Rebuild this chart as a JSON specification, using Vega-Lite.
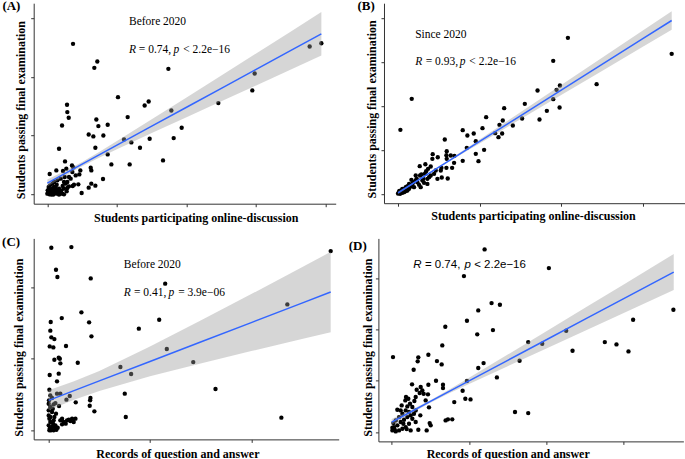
{
"$schema": "https://vega.github.io/schema/vega-lite/v6.json",
"background": "white",
"autosize": {"type": "pad"},
"padding": {"left": 1.7, "top": -0.8, "right": 0, "bottom": 0},
"datasets": {
"ptsA": [
{"x":36.9,"y":256.1},{"x":71.8,"y":226.1},{"x":67.5,"y":215.3},{"x":173.9,"y":213.6},{"x":101.5,"y":165.5},{"x":145.6,"y":158.2},{"x":139.8,"y":151.4},{"x":178.2,"y":142.9},{"x":245.7,"y":155.4},{"x":297.9,"y":205.7},{"x":294.5,"y":176.9},{"x":376.9,"y":251.6},{"x":393.7,"y":257.2},{"x":28.3,"y":152.5},{"x":28.7,"y":140.1},{"x":30.7,"y":130.5},{"x":70.4,"y":127.6},{"x":21.1,"y":117.4},{"x":73.3,"y":116.3},{"x":86.7,"y":118.6},{"x":115.4,"y":131.6},{"x":59.4,"y":102.1},{"x":66.1,"y":98.8},{"x":80.5,"y":100.4},{"x":110.2,"y":93.7},{"x":120.7,"y":88.6},{"x":147.0,"y":94.8},{"x":181.5,"y":95.9},{"x":193.0,"y":113.5},{"x":16.8,"y":77.8},{"x":69.0,"y":79.5},{"x":86.7,"y":68.2},{"x":133.1,"y":79.5},{"x":166.2,"y":58.0},{"x":118.3,"y":51.2},{"x":92.0,"y":51.2},{"x":25.4,"y":56.3},{"x":80.0,"y":26.3},{"x":62.3,"y":45.6},{"x":63.2,"y":41.0},{"x":47.4,"y":41.0},{"x":46.0,"y":34.2},{"x":35.4,"y":49.5},{"x":37.4,"y":46.1},{"x":27.3,"y":43.9},{"x":22.5,"y":39.9},{"x":12.9,"y":41.0},{"x":3.4,"y":34.8},{"x":44.5,"y":17.3},{"x":59.4,"y":11.6},{"x":49.3,"y":2.5},{"x":63.2,"y":18.4},{"x":69.0,"y":15.0},{"x":36.4,"y":14.4},{"x":31.1,"y":13.9},{"x":23.9,"y":0.3},{"x":19.2,"y":4.2},{"x":14.4,"y":7.1},{"x":9.6,"y":12.7},
{"x":0,"y":1.4},{"x":1.4,"y":4.2},{"x":2.9,"y":0.3},{"x":4.8,"y":6.5},{"x":5.7,"y":2.5},{"x":7.2,"y":9.9},{"x":8.6,"y":0},{"x":10.5,"y":4.2},{"x":12.0,"y":12.7},{"x":13.4,"y":1.4},{"x":15.3,"y":5.4},{"x":16.8,"y":9.9},{"x":18.2,"y":1.4},{"x":20.1,"y":7.1},{"x":22.0,"y":14.4},{"x":23.9,"y":9.9},{"x":26.3,"y":18.4},{"x":28.7,"y":11.0},{"x":2.4,"y":9.9},{"x":3.8,"y":15.6},{"x":7.2,"y":18.4},{"x":9.6,"y":21.2},{"x":14.4,"y":24.1},{"x":19.2,"y":26.9},{"x":24.9,"y":29.7},{"x":28.7,"y":21.2},{"x":33.5,"y":26.9},{"x":38.3,"y":16.7},{"x":0.5,"y":7.1},{"x":1.9,"y":12.7},{"x":3.8,"y":3.1},{"x":5.7,"y":0},{"x":8.1,"y":5.4},{"x":11.0,"y":8.8},{"x":13.4,"y":16.7},{"x":16.8,"y":0},{"x":21.6,"y":1.4},{"x":23.9,"y":21.2},{"x":27.8,"y":5.4},{"x":31.1,"y":29.7},{"x":35.9,"y":38.2},{"x":40.7,"y":32.5}
],
"fitA": [
{"x":0,"fit":19.5,"lo":13.5,"hi":25.5},{"x":25,"fit":35.6,"lo":31.4,"hi":39.8},{"x":50,"fit":51.7,"lo":48.0,"hi":55.4},{"x":75,"fit":67.8,"lo":63.0,"hi":72.7},{"x":100,"fit":83.9,"lo":77.0,"hi":90.8},{"x":150,"fit":116.1,"lo":104.4,"hi":127.8},{"x":200,"fit":148.3,"lo":131.5,"hi":165.1},{"x":250,"fit":180.5,"lo":158.6,"hi":202.4},{"x":300,"fit":212.7,"lo":185.5,"hi":239.9},{"x":350,"fit":244.9,"lo":212.5,"hi":277.3},{"x":393.7,"fit":273.1,"lo":236.1,"hi":310.1}
],
"annA": [
{"x":117.3,"y":292.9,"t":"Before 2020","i":0},{"x":117.3,"y":244.8,"t":"R","i":1},{"x":131.5,"y":244.8,"t":"= 0.74,","i":0},{"x":181.3,"y":244.8,"t":"p","i":1},{"x":195.2,"y":244.8,"t":"< 2.2e−16","i":0}
],
"ptsB": [
{"x":208.2,"y":356.1},{"x":335.4,"y":319.7},{"x":190.2,"y":303.8},{"x":16.8,"y":217.4},{"x":243.4,"y":250.8},{"x":198.4,"y":247.7},{"x":194.3,"y":237.9},{"x":171.0,"y":236.4},{"x":190.2,"y":216.7},{"x":198.0,"y":197.7},{"x":182.4,"y":190.2},{"x":173.4,"y":170.5},{"x":155.4,"y":206.1},{"x":130.1,"y":196.2},{"x":108.0,"y":175.8},{"x":128.4,"y":168.2},{"x":124.3,"y":158.3},{"x":140.7,"y":156.8},{"x":152.1,"y":172.7},{"x":103.5,"y":150.8},{"x":119.0,"y":139.4},{"x":123.1,"y":130.3},{"x":127.6,"y":138.6},{"x":2.9,"y":147.0},{"x":79.3,"y":146.2},{"x":85.0,"y":134.1},{"x":92.8,"y":138.6},{"x":95.3,"y":121.2},{"x":57.3,"y":125.0},{"x":84.3,"y":106.1},{"x":105.5,"y":101.5},{"x":95.3,"y":92.4},{"x":98.6,"y":75.8},{"x":79.3,"y":76.5},{"x":59.7,"y":98.5},{"x":59.3,"y":89.4},{"x":69.1,"y":87.9},{"x":48.7,"y":84.8},{"x":42.5,"y":91.7},{"x":42.1,"y":81.1},{"x":59.7,"y":81.1},{"x":59.3,"y":60.6},{"x":66.3,"y":60.6},{"x":68.7,"y":72.0},{"x":53.6,"y":38.6},{"x":60.9,"y":36.4},{"x":53.2,"y":60.6},{"x":26.6,"y":64.4},{"x":33.5,"y":68.9},{"x":40.1,"y":63.6},{"x":34.4,"y":53.0},{"x":28.6,"y":45.5},{"x":21.7,"y":43.2},{"x":16.4,"y":33.3},{"x":36.0,"y":24.2},{"x":44.2,"y":47.0},{"x":48.3,"y":35.6},{"x":38.0,"y":39.4},{"x":31.1,"y":35.6},{"x":23.7,"y":28.0},{"x":17.6,"y":24.2},{"x":11.5,"y":18.9},{"x":7.4,"y":12.9},{"x":4.1,"y":9.1},{"x":1.2,"y":5.3},{"x":0,"y":2.3},{"x":2.5,"y":1.5},{"x":5.3,"y":3.8},{"x":9.4,"y":7.6},{"x":13.5,"y":12.9},{"x":19.6,"y":16.7},{"x":25.8,"y":22.0},{"x":31.9,"y":26.5},{"x":29.9,"y":31.8},{"x":21.7,"y":31.8},{"x":13.5,"y":24.2},{"x":9.4,"y":16.7},{"x":5.3,"y":12.9},{"x":15.5,"y":18.2},{"x":27.8,"y":16.7},{"x":36.0,"y":35.6},{"x":40.1,"y":43.2},{"x":46.2,"y":54.5},{"x":52.4,"y":54.5},{"x":36.8,"y":58.3},{"x":22.9,"y":35.6},{"x":18.8,"y":28.0},{"x":11.5,"y":9.1},{"x":7.4,"y":5.3},{"x":3.3,"y":6.8},{"x":1.6,"y":8.3},{"x":27.0,"y":43.2},{"x":32.7,"y":47.0},{"x":64.6,"y":88.6}
],
"fitB": [
{"x":0,"fit":3.8,"lo":0.8,"hi":6.8},{"x":25,"fit":33.0,"lo":31.6,"hi":34.4},{"x":50,"fit":62.2,"lo":61.0,"hi":63.4},{"x":75,"fit":91.4,"lo":88.7,"hi":94.1},{"x":100,"fit":120.6,"lo":116.2,"hi":125.0},{"x":150,"fit":179.0,"lo":171.1,"hi":186.9},{"x":200,"fit":237.4,"lo":226.0,"hi":248.8},{"x":250,"fit":295.8,"lo":280.8,"hi":310.8},{"x":300,"fit":354.2,"lo":335.7,"hi":372.7},{"x":335.4,"fit":395.5,"lo":374.5,"hi":416.5}
],
"annB": [
{"x":21,"y":363.6,"t":"Since 2020","i":0},{"x":21,"y":300.8,"t":"R","i":1},{"x":34.0,"y":300.8,"t":"= 0.93,","i":0},{"x":75.5,"y":300.8,"t":"p","i":1},{"x":87.4,"y":300.8,"t":"< 2.2e−16","i":0}
],
"ptsC": [
{"x":2.6,"y":254.9},{"x":22.4,"y":255.8},{"x":7.2,"y":224.2},{"x":8.6,"y":214.0},{"x":41.5,"y":212.1},{"x":115.0,"y":204.7},{"x":278.4,"y":250.2},{"x":32.3,"y":164.7},{"x":12.9,"y":156.7},{"x":2.0,"y":151.2},{"x":39.9,"y":150.7},{"x":109.1,"y":154.4},{"x":89.0,"y":141.9},{"x":1.6,"y":139.1},{"x":2.6,"y":129.8},{"x":5.6,"y":127.4},{"x":42.2,"y":131.2},{"x":1.0,"y":117.2},{"x":4.6,"y":115.8},{"x":17.1,"y":117.7},{"x":235.6,"y":175.8},{"x":116.6,"y":113.5},{"x":5.6,"y":98.6},{"x":9.9,"y":101.4},{"x":11.0,"y":100.0},{"x":11.5,"y":93.5},{"x":28.7,"y":94.4},{"x":142.7,"y":95.3},{"x":70.8,"y":88.4},{"x":81.4,"y":78.6},{"x":1.0,"y":77.2},{"x":9.9,"y":79.1},{"x":8.2,"y":68.4},{"x":0.7,"y":56.7},{"x":164.7,"y":57.7},{"x":75.1,"y":51.2},{"x":8.2,"y":51.2},{"x":11.5,"y":51.2},{"x":20.8,"y":47.9},{"x":17.5,"y":42.8},{"x":26.7,"y":39.1},{"x":41.2,"y":45.1},{"x":40.9,"y":41.9},{"x":40.5,"y":34.4},{"x":45.1,"y":26.5},{"x":10.2,"y":34.0},{"x":7.2,"y":23.3},{"x":76.1,"y":18.6},{"x":229.7,"y":17.7},{"x":3.3,"y":45.1},{"x":4.9,"y":36.3},{"x":6.6,"y":38.1},{"x":13.2,"y":16.3},{"x":14.8,"y":11.6},{"x":11.5,"y":14.0},{"x":18.1,"y":14.0},{"x":21.4,"y":13.0},{"x":24.7,"y":11.6},{"x":23.1,"y":16.3},{"x":13.2,"y":8.4},{"x":16.8,"y":9.3},{"x":19.8,"y":14.9},{"x":26.4,"y":16.3},
{"x":0,"y":27.9},{"x":0,"y":20.9},{"x":0.7,"y":16.3},{"x":1.6,"y":11.6},{"x":0,"y":7.0},{"x":1.0,"y":2.3},{"x":2.3,"y":0},{"x":3.3,"y":4.7},{"x":4.3,"y":9.3},{"x":4.9,"y":14.0},{"x":5.6,"y":18.6},{"x":3.3,"y":25.6},{"x":1.6,"y":32.6},{"x":0,"y":37.2},{"x":4.0,"y":30.2},{"x":5.9,"y":4.7},{"x":7.6,"y":0.9},{"x":8.9,"y":3.7},{"x":0.7,"y":0},{"x":1.6,"y":18.6},{"x":4.9,"y":0},{"x":6.6,"y":7.0},{"x":0.3,"y":41.9},{"x":1.6,"y":48.8}
],
"fitC": [
{"x":0,"fit":41.9,"lo":27.9,"hi":55.9},{"x":25,"fit":55.5,"lo":42.6,"hi":68.4},{"x":50,"fit":69.0,"lo":55.0,"hi":83.0},{"x":100,"fit":96.2,"lo":75.5,"hi":116.9},{"x":150,"fit":123.3,"lo":93.4,"hi":153.2},{"x":200,"fit":150.4,"lo":110.6,"hi":190.2},{"x":250,"fit":177.6,"lo":127.5,"hi":227.7},{"x":278.4,"fit":193.0,"lo":136.9,"hi":249.1}
],
"annC": [
{"x":74.1,"y":230.2,"t":"Before 2020","i":0},{"x":74.1,"y":192.1,"t":"R","i":1},{"x":84.2,"y":192.1,"t":"= 0.41,","i":0},{"x":118.3,"y":192.1,"t":"p","i":1},{"x":127.8,"y":192.1,"t":"= 3.9e−06","i":0}
],
"ptsD": [
{"x":120.1,"y":355.8},{"x":203.2,"y":319.5},{"x":93.4,"y":303.9},{"x":129.1,"y":251.3},{"x":139.9,"y":248.1},{"x":111.9,"y":237.0},{"x":97.3,"y":216.9},{"x":69.3,"y":205.2},{"x":130.9,"y":198.7},{"x":110.6,"y":190.3},{"x":364.2,"y":238.3},{"x":312.1,"y":218.8},{"x":225.6,"y":197.4},{"x":176.5,"y":175.3},{"x":194.6,"y":172.1},{"x":275.5,"y":175.3},{"x":290.6,"y":170.8},{"x":306.1,"y":157.1},{"x":233.8,"y":158.4},{"x":65.4,"y":168.8},{"x":1.7,"y":146.1},{"x":34.4,"y":145.5},{"x":47.4,"y":150.6},{"x":33.6,"y":137.7},{"x":58.5,"y":138.3},{"x":64.6,"y":131.8},{"x":28.4,"y":121.4},{"x":118.8,"y":134.4},{"x":111.9,"y":124.7},{"x":165.3,"y":139.0},{"x":136.0,"y":106.5},{"x":97.3,"y":99.4},{"x":57.3,"y":100.0},{"x":66.3,"y":92.2},{"x":66.3,"y":85.7},{"x":26.3,"y":92.9},{"x":47.4,"y":92.2},{"x":91.7,"y":80.5},{"x":95.2,"y":64.9},{"x":101.9,"y":63.6},{"x":80.9,"y":58.4},{"x":159.4,"y":39.0},{"x":176.5,"y":37.0},{"x":69.7,"y":22.7},{"x":72.7,"y":24.7},{"x":78.3,"y":24.7},{"x":37.5,"y":87.7},{"x":39.6,"y":81.2},{"x":32.3,"y":82.5},{"x":36.2,"y":76.0},{"x":41.3,"y":74.7},{"x":46.9,"y":73.4},{"x":43.9,"y":61.7},{"x":48.2,"y":48.1},{"x":37.0,"y":32.5},{"x":29.3,"y":60.4},{"x":31.0,"y":68.2},{"x":21.5,"y":64.9},{"x":18.5,"y":68.2},{"x":17.6,"y":61.7},{"x":12.9,"y":51.9},{"x":11.6,"y":42.2},{"x":7.3,"y":43.5},{"x":20.2,"y":50.0},{"x":23.7,"y":55.2},{"x":26.7,"y":48.7},{"x":31.0,"y":42.2},{"x":28.8,"y":35.7},{"x":24.5,"y":32.5},{"x":26.7,"y":26.0},{"x":31.0,"y":19.5},{"x":34.4,"y":4.5},{"x":45.2,"y":3.2},{"x":49.1,"y":17.5},{"x":50.4,"y":13.0},{"x":22.4,"y":16.2},{"x":18.1,"y":9.7},{"x":13.8,"y":6.5},{"x":9.5,"y":3.2},{"x":5.2,"y":1.3},{"x":0.9,"y":3.2},{"x":3.0,"y":9.7},{"x":7.3,"y":13.0},{"x":11.6,"y":19.5},{"x":15.9,"y":24.0},{"x":20.2,"y":29.2},{"x":9.5,"y":29.2},{"x":5.2,"y":22.7},{"x":2.2,"y":17.5},{"x":13.8,"y":35.7},{"x":18.1,"y":42.2},{"x":22.4,"y":39.0},{"x":15.1,"y":16.2},{"x":19.4,"y":5.8},{"x":24.5,"y":3.2},{"x":0.9,"y":8.4},{"x":3.9,"y":4.5}
],
"fitD": [
{"x":0,"fit":19.5,"lo":13.5,"hi":25.5},{"x":25,"fit":39.5,"lo":35.9,"hi":43.1},{"x":50,"fit":59.6,"lo":57.3,"hi":61.9},{"x":75,"fit":79.6,"lo":76.0,"hi":83.2},{"x":100,"fit":99.6,"lo":93.6,"hi":105.6},{"x":150,"fit":139.7,"lo":128.4,"hi":151.0},{"x":200,"fit":179.8,"lo":163.0,"hi":196.6},{"x":250,"fit":219.9,"lo":197.6,"hi":242.2},{"x":300,"fit":259.9,"lo":232.1,"hi":287.7},{"x":364.6,"fit":311.7,"lo":276.7,"hi":346.7}
],
"annD": [
{"x":28.0,"y":326.0,"t":"R","i":1},{"x":42.9,"y":326.0,"t":"= 0.74,","i":0},{"x":94.0,"y":326.0,"t":"p","i":1},{"x":106.6,"y":326.0,"t":"< 2.2e−16","i":0}
]
},
"vconcat": [
{"hconcat": [
{"width": 302, "height": 200.5,
 "title": {"text": "(A)", "dx": -31.3, "dy": 13.7},
 "layer": [
  {"data": {"name": "ptsA"}, "mark": {"type": "circle"},
   "encoding": {
    "x": {"field": "x", "type": "quantitative", "scale": {"domain": [-19.6, 414.3], "nice": false, "zero": false},
          "axis": {"values": [0,100,200,300,400], "title": "Students participating online-discussion", "titleX": 162, "titleY": 13.5}},
    "y": {"field": "y", "type": "quantitative", "scale": {"domain": [-15.6, 325.2], "nice": false, "zero": false},
          "axis": {"values": [0,100,200,300], "title": "Students passing final examination", "titleX": -13, "titleY": 106.5}}}},
  {"data": {"name": "fitA"}, "mark": {"type": "area"},
   "encoding": {"x": {"field": "x", "type": "quantitative"}, "y": {"field": "lo", "type": "quantitative"}, "y2": {"field": "hi"}}},
  {"data": {"name": "fitA"}, "mark": {"type": "line"},
   "encoding": {"x": {"field": "x", "type": "quantitative"}, "y": {"field": "fit", "type": "quantitative"}}},
  {"data": {"name": "annA"}, "transform": [{"filter": "datum.i == 0"}], "mark": {"type": "text"},
   "encoding": {"x": {"field": "x", "type": "quantitative"}, "y": {"field": "y", "type": "quantitative"}, "text": {"field": "t"}}},
  {"data": {"name": "annA"}, "transform": [{"filter": "datum.i == 1"}], "mark": {"type": "text", "fontStyle": "italic"},
   "encoding": {"x": {"field": "x", "type": "quantitative"}, "y": {"field": "y", "type": "quantitative"}, "text": {"field": "t"}}}
 ]},
{"width": 301, "height": 200,
 "title": {"text": "(B)", "dx": -26.6, "dy": 13.7},
 "layer": [
  {"data": {"name": "ptsB"}, "mark": {"type": "circle"},
   "encoding": {
    "x": {"field": "x", "type": "quantitative", "scale": {"domain": [-17.2, 351.7], "nice": false, "zero": false},
          "axis": {"values": [0,100,200,300], "title": "Students participating online-discussion", "titleX": 149, "titleY": 12}},
    "y": {"field": "y", "type": "quantitative", "scale": {"domain": [-19.7, 434.8], "nice": false, "zero": false},
          "axis": {"values": [0,100,200,300,400], "title": "Students passing final examination", "titleX": -12.3, "titleY": 105.7}}}},
  {"data": {"name": "fitB"}, "mark": {"type": "area"},
   "encoding": {"x": {"field": "x", "type": "quantitative"}, "y": {"field": "lo", "type": "quantitative"}, "y2": {"field": "hi"}}},
  {"data": {"name": "fitB"}, "mark": {"type": "line"},
   "encoding": {"x": {"field": "x", "type": "quantitative"}, "y": {"field": "fit", "type": "quantitative"}}},
  {"data": {"name": "annB"}, "transform": [{"filter": "datum.i == 0"}], "mark": {"type": "text"},
   "encoding": {"x": {"field": "x", "type": "quantitative"}, "y": {"field": "y", "type": "quantitative"}, "text": {"field": "t"}}},
  {"data": {"name": "annB"}, "transform": [{"filter": "datum.i == 1"}], "mark": {"type": "text", "fontStyle": "italic"},
   "encoding": {"x": {"field": "x", "type": "quantitative"}, "y": {"field": "y", "type": "quantitative"}, "text": {"field": "t"}}}
 ]}
], "spacing": 48.3, "bounds": "flush"},
{"hconcat": [
{"width": 305, "height": 201,
 "title": {"text": "(C)", "dx": -31.6, "dy": 14.7},
 "layer": [
  {"data": {"name": "ptsC"}, "mark": {"type": "circle"},
   "encoding": {
    "x": {"field": "x", "type": "quantitative", "scale": {"domain": [-14.8, 286.3], "nice": false, "zero": false},
          "axis": {"values": [0,100,200], "title": "Records of question and answer", "titleX": 143.7, "titleY": 14}},
    "y": {"field": "y", "type": "quantitative", "scale": {"domain": [-12.6, 267.9], "nice": false, "zero": false},
          "axis": {"values": [0,100,200], "title": "Students passing final examination", "titleX": -15, "titleY": 108.7}}}},
  {"data": {"name": "fitC"}, "mark": {"type": "area"},
   "encoding": {"x": {"field": "x", "type": "quantitative"}, "y": {"field": "lo", "type": "quantitative"}, "y2": {"field": "hi"}}},
  {"data": {"name": "fitC"}, "mark": {"type": "line"},
   "encoding": {"x": {"field": "x", "type": "quantitative"}, "y": {"field": "fit", "type": "quantitative"}}},
  {"data": {"name": "annC"}, "transform": [{"filter": "datum.i == 0"}], "mark": {"type": "text"},
   "encoding": {"x": {"field": "x", "type": "quantitative"}, "y": {"field": "y", "type": "quantitative"}, "text": {"field": "t"}}},
  {"data": {"name": "annC"}, "transform": [{"filter": "datum.i == 1"}], "mark": {"type": "text", "fontStyle": "italic"},
   "encoding": {"x": {"field": "x", "type": "quantitative"}, "y": {"field": "y", "type": "quantitative"}, "text": {"field": "t"}}}
 ]},
{"width": 305, "height": 203,
 "title": {"text": "(D)", "dx": -29.7, "dy": 18.4},
 "layer": [
  {"data": {"name": "ptsD"}, "mark": {"type": "circle"},
   "encoding": {
    "x": {"field": "x", "type": "quantitative", "scale": {"domain": [-17.2, 377.1], "nice": false, "zero": false},
          "axis": {"values": [0,100,200,300], "title": "Records of question and answer", "titleX": 129.3, "titleY": 12}},
    "y": {"field": "y", "type": "quantitative", "scale": {"domain": [-18.2, 377.3], "nice": false, "zero": false},
          "axis": {"values": [0,100,200,300], "title": "Students passing final examination", "titleX": -11, "titleY": 108.7}}}},
  {"data": {"name": "fitD"}, "mark": {"type": "area"},
   "encoding": {"x": {"field": "x", "type": "quantitative"}, "y": {"field": "lo", "type": "quantitative"}, "y2": {"field": "hi"}}},
  {"data": {"name": "fitD"}, "mark": {"type": "line"},
   "encoding": {"x": {"field": "x", "type": "quantitative"}, "y": {"field": "fit", "type": "quantitative"}}},
  {"data": {"name": "annD"}, "transform": [{"filter": "datum.i == 0"}], "mark": {"type": "text", "font": "Liberation Sans"},
   "encoding": {"x": {"field": "x", "type": "quantitative"}, "y": {"field": "y", "type": "quantitative"}, "text": {"field": "t"}}},
  {"data": {"name": "annD"}, "transform": [{"filter": "datum.i == 1"}], "mark": {"type": "text", "font": "Liberation Sans", "fontStyle": "italic"},
   "encoding": {"x": {"field": "x", "type": "quantitative"}, "y": {"field": "y", "type": "quantitative"}, "text": {"field": "t"}}}
 ]}
], "spacing": 39.7, "bounds": "flush"}
],
"spacing": 12.2,
"config": {
 "view": {"stroke": null},
 "circle": {"size": 19, "color": "black", "opacity": 1},
 "area": {"color": "#999999", "opacity": 0.4},
 "line": {"color": "#3366FF", "strokeWidth": 1.5},
 "text": {"font": "Liberation Serif", "fontSize": 11.5, "align": "left", "baseline": "middle", "color": "black"},
 "title": {"font": "Liberation Serif", "fontSize": 13, "fontWeight": "bold", "anchor": "start", "frame": "group", "offset": 0, "baseline": "top", "color": "black"},
 "axis": {"labels": false, "grid": false, "domainColor": "#333333", "domainWidth": 1, "tickColor": "#333333", "tickSize": 3, "tickWidth": 1,
          "titleFont": "Liberation Serif", "titleFontSize": 12, "titleFontWeight": "bold", "titleColor": "black", "titleAlign": "center", "titleBaseline": "middle"}
}
}
